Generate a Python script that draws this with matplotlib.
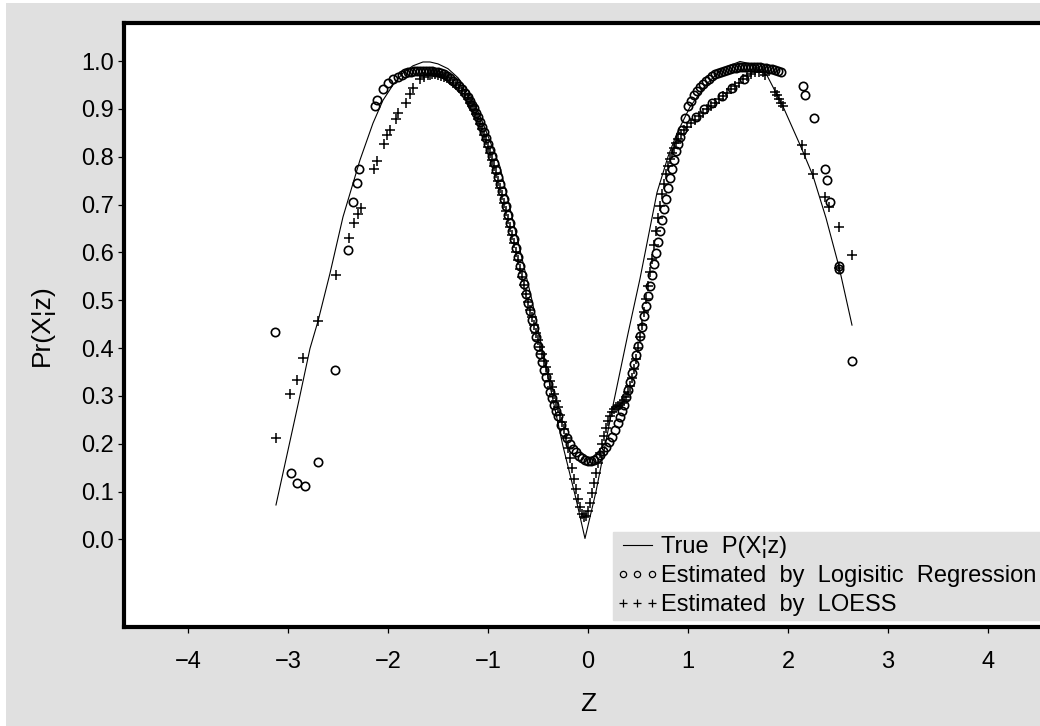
import matplotlib
matplotlib.use("Agg")
import matplotlib.pyplot as plt
from matplotlib.lines import Line2D
from matplotlib.patches import Rectangle

plt.rcParams['font.family'] = ['Liberation Sans', 'DejaVu Sans']

# true P(X|z) curve
true_z = [-3.12, -2.89, -2.78, -2.70, -2.58, -2.45, -2.28, -2.15, -2.05, -1.95,
          -1.85, -1.75, -1.65, -1.58, -1.50, -1.40, -1.30, -1.18, -1.05, -0.88,
          -0.72, -0.56, -0.40, -0.25, -0.12, -0.03, 0.08, 0.25, 0.40, 0.52,
          0.69, 0.80, 0.89, 1.02, 1.19, 1.35, 1.52, 1.65, 1.79, 1.95,
          2.12, 2.25, 2.38, 2.51, 2.64]
true_p = [0.072, 0.291, 0.399, 0.456, 0.556, 0.674, 0.793, 0.870, 0.918, 0.950,
          0.975, 0.990, 0.998, 0.998, 0.994, 0.984, 0.965, 0.932, 0.870, 0.779,
          0.640, 0.500, 0.340, 0.195, 0.085, 0.002, 0.100, 0.280, 0.430, 0.545,
          0.725, 0.800, 0.849, 0.904, 0.953, 0.985, 0.999, 0.993, 0.970, 0.905,
          0.825, 0.760, 0.672, 0.570, 0.448]

# logistic regression estimates (circles)
logit_z = [-3.13, -2.97, -2.91, -2.83, -2.70, -2.53, -2.40, -2.35, -2.31, -2.29,
           -2.13, -2.11, -2.05, -2.00, -1.95, -1.90, -1.86,
           -1.83, -1.80, -1.77, -1.74, -1.71, -1.68, -1.65, -1.62, -1.59, -1.56,
           -1.53, -1.50, -1.47, -1.44, -1.41, -1.38, -1.35, -1.32,
           -1.29, -1.26, -1.23, -1.20, -1.18, -1.16, -1.14, -1.12, -1.10, -1.08,
           -1.06, -1.04, -1.02, -1.00, -0.98, -0.96, -0.94, -0.92, -0.90, -0.88,
           -0.86, -0.84, -0.82, -0.80, -0.78, -0.76, -0.74, -0.72, -0.70, -0.68,
           -0.66, -0.64, -0.62, -0.60, -0.58, -0.56, -0.54, -0.52, -0.50, -0.48,
           -0.46, -0.44, -0.42, -0.40, -0.38, -0.36, -0.34, -0.32, -0.30, -0.27,
           -0.24, -0.21, -0.18, -0.15, -0.12, -0.09, -0.06, -0.03, 0.00, 0.03,
           0.06, 0.09, 0.12, 0.15, 0.18, 0.21, 0.24, 0.27, 0.30, 0.32,
           0.34, 0.36, 0.38, 0.40, 0.42, 0.44, 0.46, 0.48, 0.50, 0.52,
           0.54, 0.56, 0.58, 0.60, 0.62, 0.64, 0.66, 0.68, 0.70, 0.72,
           0.74, 0.76, 0.78, 0.80, 0.82, 0.84, 0.86, 0.88, 0.90, 0.92,
           0.94, 0.97,
           1.00, 1.03, 1.06, 1.09, 1.12, 1.15, 1.18, 1.21, 1.24, 1.27,
           1.30, 1.33, 1.36, 1.39, 1.42, 1.45, 1.48, 1.51, 1.54, 1.57,
           1.60, 1.63, 1.66, 1.69, 1.72, 1.75, 1.78, 1.81, 1.84, 1.87,
           1.90, 1.93,
           1.08, 1.16, 1.24, 1.34, 1.44, 1.56,
           2.15, 2.17, 2.26, 2.37, 2.39, 2.42, 2.51, 2.51, 2.64]
logit_p = [0.433, 0.139, 0.117, 0.112, 0.161, 0.354, 0.605, 0.705, 0.746, 0.774,
           0.907, 0.918, 0.941, 0.954, 0.962, 0.967, 0.971,
           0.974, 0.976, 0.978, 0.979, 0.979, 0.980, 0.980, 0.980, 0.979, 0.979,
           0.978, 0.977, 0.975, 0.972, 0.968, 0.964, 0.959, 0.954,
           0.948, 0.941, 0.933, 0.924, 0.917, 0.909, 0.901, 0.892, 0.883, 0.873,
           0.862, 0.851, 0.839, 0.827, 0.814, 0.801, 0.787, 0.773, 0.758, 0.743,
           0.728, 0.712, 0.696, 0.679, 0.662, 0.645, 0.627, 0.609, 0.590, 0.571,
           0.552, 0.533, 0.514, 0.495, 0.477, 0.459, 0.441, 0.423, 0.405, 0.388,
           0.371, 0.355, 0.339, 0.324, 0.309, 0.295, 0.282, 0.269, 0.257, 0.240,
           0.225, 0.212, 0.200, 0.190, 0.182, 0.175, 0.170, 0.166, 0.164, 0.164,
           0.166, 0.170, 0.176, 0.184, 0.193, 0.203, 0.215, 0.228, 0.243, 0.255,
           0.268, 0.282, 0.297, 0.313, 0.330, 0.348, 0.367, 0.386, 0.405, 0.425,
           0.445, 0.466, 0.487, 0.508, 0.530, 0.552, 0.575, 0.598, 0.621, 0.644,
           0.667, 0.690, 0.712, 0.734, 0.755, 0.775, 0.794, 0.811, 0.827, 0.842,
           0.855, 0.881,
           0.905, 0.917, 0.928, 0.937, 0.945, 0.952, 0.958, 0.963, 0.968, 0.972,
           0.975, 0.978, 0.980, 0.982, 0.984, 0.985, 0.986, 0.987, 0.988, 0.988,
           0.988, 0.988, 0.988, 0.987, 0.987, 0.986, 0.985, 0.984, 0.983, 0.981,
           0.980, 0.978,
           0.884, 0.899, 0.912, 0.927, 0.943, 0.962,
           0.948, 0.929, 0.880, 0.774, 0.751, 0.706, 0.572, 0.565, 0.373]

# LOESS estimates (plus signs)
loess_z = [-3.12, -2.98, -2.91, -2.85, -2.70, -2.52, -2.39, -2.34, -2.30, -2.27,
           -2.14, -2.11, -2.04, -2.01, -1.98, -1.92, -1.90, -1.82, -1.78, -1.75,
           -1.68, -1.64, -1.60, -1.58, -1.56, -1.53, -1.50, -1.47, -1.44, -1.41,
           -1.38, -1.35, -1.32, -1.29, -1.26, -1.23, -1.20,
           -1.18, -1.16, -1.14, -1.12, -1.10, -1.08, -1.06, -1.04, -1.02, -1.00,
           -0.98, -0.96, -0.94, -0.92, -0.90, -0.88, -0.86, -0.84, -0.82, -0.80,
           -0.78, -0.76, -0.74, -0.72, -0.70, -0.68, -0.66, -0.64, -0.62, -0.60,
           -0.58, -0.56, -0.54, -0.52, -0.50, -0.48, -0.46, -0.44, -0.42, -0.40,
           -0.38, -0.36, -0.34, -0.32, -0.30, -0.28, -0.26, -0.24, -0.22, -0.20,
           -0.18, -0.16, -0.14, -0.12, -0.10, -0.08, -0.06, -0.04, -0.02, 0.00,
           0.02, 0.04, 0.06, 0.08, 0.10, 0.12, 0.14, 0.16, 0.18, 0.20,
           0.22, 0.24, 0.26, 0.28, 0.30, 0.32, 0.34, 0.36, 0.38, 0.40,
           0.42, 0.44, 0.46, 0.48, 0.50, 0.52, 0.54, 0.56, 0.58, 0.60,
           0.62, 0.64, 0.66, 0.68, 0.70, 0.72, 0.74, 0.76, 0.78, 0.80,
           0.82, 0.84, 0.86, 0.88, 0.90, 0.93, 0.96, 0.99,
           1.03, 1.07, 1.11, 1.15, 1.19, 1.23, 1.27, 1.31, 1.35, 1.39,
           1.43, 1.47, 1.51, 1.55, 1.59, 1.63, 1.67, 1.71, 1.75, 1.77,
           1.87, 1.89, 1.91, 1.93, 1.95,
           2.14, 2.17, 2.25, 2.37, 2.41, 2.51, 2.51, 2.64]
loess_p = [0.213, 0.303, 0.333, 0.380, 0.456, 0.553, 0.630, 0.661, 0.680, 0.692,
           0.774, 0.791, 0.826, 0.846, 0.856, 0.879, 0.891, 0.913, 0.932, 0.943,
           0.962, 0.967, 0.970, 0.971, 0.972, 0.972, 0.971, 0.969, 0.967, 0.964,
           0.960, 0.955, 0.950, 0.944, 0.937, 0.929, 0.920,
           0.913, 0.906, 0.898, 0.889, 0.879, 0.869, 0.858, 0.846, 0.834, 0.821,
           0.808, 0.794, 0.780, 0.765, 0.750, 0.735, 0.719, 0.703, 0.687, 0.670,
           0.653, 0.636, 0.619, 0.601, 0.584, 0.566, 0.549, 0.531, 0.514, 0.497,
           0.480, 0.464, 0.448, 0.432, 0.417, 0.402, 0.388, 0.374, 0.360, 0.346,
           0.332, 0.318, 0.304, 0.290, 0.276, 0.261, 0.246, 0.230, 0.212, 0.192,
           0.171, 0.149, 0.127, 0.105, 0.085, 0.067, 0.053, 0.046, 0.049, 0.060,
           0.077, 0.097, 0.118, 0.139, 0.160, 0.180, 0.199, 0.217, 0.233, 0.247,
           0.258, 0.266, 0.272, 0.276, 0.279, 0.282, 0.286, 0.291, 0.298, 0.308,
           0.321, 0.337, 0.356, 0.377, 0.400, 0.424, 0.449, 0.475, 0.502, 0.530,
           0.558, 0.587, 0.616, 0.644, 0.671, 0.697, 0.721, 0.743, 0.763, 0.780,
           0.795, 0.808, 0.819, 0.829, 0.837, 0.847, 0.855, 0.862,
           0.870, 0.877, 0.885, 0.892, 0.899, 0.906, 0.913, 0.920, 0.927, 0.934,
           0.941, 0.948, 0.955, 0.962, 0.968, 0.973, 0.976, 0.978, 0.977, 0.971,
           0.935, 0.928, 0.920, 0.912, 0.905,
           0.824, 0.806, 0.764, 0.716, 0.694, 0.654, 0.567, 0.594]

x_ticks = [-4, -3, -2, -1, 0, 1, 2, 3, 4]
y_ticks = [0.0, 0.1, 0.2, 0.3, 0.4, 0.5, 0.6, 0.7, 0.8, 0.9, 1.0]

bg = '#e0e0e0'
fig = plt.figure(figsize=(10.4, 7.26), dpi=100, facecolor='white')
# thin white margin on top and left, grey page behind the plot
fig.patches.append(Rectangle((6 / 1040, 0), 1, 1 - 3 / 726, transform=fig.transFigure,
                             facecolor=bg, edgecolor='none', zorder=-10))
ax = fig.add_axes([0.1192, 0.1364, 0.8808, 0.8326])
ax.set_facecolor('white')

ax.plot(true_z, true_p, color='black', lw=0.8, zorder=3)
ax.plot(logit_z, logit_p, ls='none', marker='o', ms=6, mfc='none',
        mec='black', mew=1.2, zorder=2)
ax.plot(loess_z, loess_p, ls='none', marker='+', ms=7.5, mec='black',
        mew=1.1, zorder=2)

ax.set_xlim(-4.64, 4.52)
ax.set_ylim(-0.183, 1.0805)
ax.set_xticks(x_ticks)
ax.set_xticklabels(['\u2212' + str(-t) if t < 0 else str(t) for t in x_ticks])
ax.set_yticks(y_ticks)
ax.set_yticklabels([f"{t:.1f}" for t in y_ticks])
ax.tick_params(axis='both', direction='out', length=4, width=0.9,
               labelsize=17, colors='black')
ax.tick_params(axis='x', pad=13)
ax.tick_params(axis='y', pad=3)

for s in ['left', 'top', 'bottom']:
    ax.spines[s].set_linewidth(3)
    ax.spines[s].set_color('black')
ax.spines['right'].set_visible(False)

ax.set_xlabel('Z', fontsize=19)
ax.xaxis.set_label_coords(0.5066, -0.108)
ax.set_ylabel('Pr(X\u00a6z)', fontsize=19)
ax.yaxis.set_label_coords(-0.077, 0.5)

handles = [
    Line2D([], [], color='black', lw=0.8),
    Line2D([], [], ls='none', marker='o', ms=4.5, mfc='none', mec='black', mew=0.9),
    Line2D([], [], ls='none', marker='+', ms=5.5, mec='black', mew=0.9),
]
labels = ['True  P(X\u00a6z)', 'Estimated  by  Logisitic  Regression',
          'Estimated  by  LOESS']
leg = ax.legend(handles, labels, loc='lower right', bbox_to_anchor=(1.0, 0.012),
                numpoints=3, handlelength=1.8, handletextpad=0.1,
                labelspacing=0.3, borderpad=0.15, borderaxespad=0,
                fontsize=17, frameon=True, fancybox=False, framealpha=1)
leg.get_frame().set_facecolor(bg)
leg.get_frame().set_edgecolor(bg)
leg.set_zorder(5)

fig.savefig('out.png', dpi=100)
